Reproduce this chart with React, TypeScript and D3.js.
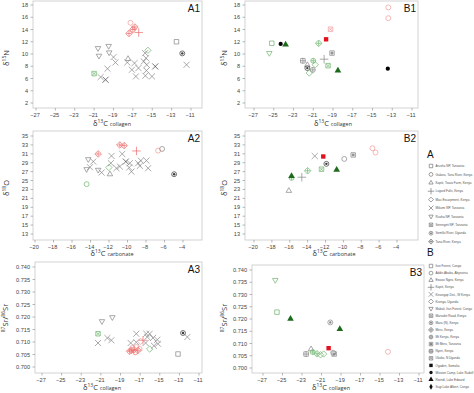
import React from "react";
import * as d3 from "d3";

// [x, y, symbol, colour group]
type Pt = [number, number, string, string];

const collagenTicks = [-27, -25, -23, -21, -19, -17, -15, -13, -11];
const carbonateTicks = [-20, -18, -16, -14, -12, -10, -8, -6, -4];
const nitrogenTicks = [2, 4, 6, 8, 10, 12, 14, 16, 18];
const oxygenTicks = [13, 15, 17, 19, 21, 23, 25, 27, 29, 31, 33, 35];
const strontiumTicks = [0.7, 0.705, 0.71, 0.715, 0.72, 0.725, 0.73, 0.735, 0.74];

const a1Points: Pt[] = [
  [-20.6, 10.95, "triDown", "grey"], [-20.5, 9.7, "triDown", "grey"], [-19.5, 11.3, "triDown", "grey"], [-19.45, 10.25, "triDown", "grey"],
  [-17.5, 9.2, "triangle", "grey"],
  [-15.45, 10.6, "diamond", "green"],
  [-21.0, 6.8, "squareX", "green"],
  [-12.5, 12.0, "square", "grey"],
  [-11.9, 10.1, "circleStar", "dark"],
  [-17.25, 15.1, "circle", "pink"],
  [-17.4, 13.35, "diamondPlus", "red"], [-17.0, 14.0, "diamondPlus", "red"], [-16.8, 14.4, "diamondPlus", "red"],
  [-16.4, 13.5, "plus", "red"],
  [-20.33, 6.23, "cross", "grey"], [-19.82, 5.8, "cross", "dark"], [-19.62, 7.6, "cross", "grey"], [-19.0, 9.49, "cross", "grey"],
  [-18.8, 8.62, "cross", "grey"], [-17.58, 8.62, "cross", "grey"], [-17.1, 7.43, "cross", "grey"], [-16.83, 8.51, "cross", "grey"],
  [-16.69, 6.34, "cross", "grey"], [-16.42, 7.7, "cross", "grey"], [-15.88, 8.78, "cross", "grey"], [-15.74, 10.14, "cross", "grey"],
  [-15.64, 9.32, "cross", "grey"], [-15.71, 6.45, "cross", "grey"], [-15.57, 8.24, "cross", "grey"], [-15.6, 7.3, "cross", "grey"],
  [-15.03, 6.34, "cross", "grey"], [-14.69, 7.97, "cross", "dark"], [-11.46, 8.24, "cross", "grey"],
];

const b1Points: Pt[] = [
  [-13.4, 17.6, "circle", "pink"], [-13.4, 15.85, "circle", "pink"],
  [-19.25, 14.05, "squareX", "pink"],
  [-19.7, 12.4, "fSquare", "fred"],
  [-25.2, 11.75, "square", "green"],
  [-25.45, 10.15, "triDown", "green"],
  [-24.3, 11.65, "fCircle", "black"],
  [-23.8, 11.55, "fTriangle", "dgreen"],
  [-20.45, 11.75, "diamondPlus", "green"],
  [-19.1, 10.15, "squareHash", "grey"],
  [-19.9, 9.15, "plus", "grey"],
  [-22.05, 8.9, "squareGrid", "grey"],
  [-21.6, 8.2, "triangle", "grey"],
  [-21.6, 7.7, "circleStar", "dark"],
  [-21.05, 7.4, "circlePlus", "grey"],
  [-21.0, 8.9, "circlePlus", "green"],
  [-20.8, 8.25, "diamond", "green"],
  [-19.5, 8.1, "squareX", "green"],
  [-21.4, 6.9, "diamond", "green"],
  [-18.5, 7.3, "fTriangle", "dgreen"],
  [-13.45, 7.6, "fCircle", "black"],
];

const a2Points: Pt[] = [
  [-13.17, 30.97, "diamondPlus", "red"], [-10.83, 32.99, "diamondPlus", "red"], [-10.36, 32.84, "diamondPlus", "red"],
  [-9.03, 31.64, "plus", "red"],
  [-6.69, 31.72, "circle", "pink"], [-6.26, 32.09, "circle", "grey"],
  [-4.96, 26.42, "circleStar", "dark"],
  [-14.42, 24.19, "circle", "green"],
  [-12.01, 27.92, "diamond", "green"],
  [-11.9, 26.42, "triangle", "grey"],
  [-14.24, 29.78, "triDown", "grey"], [-14.42, 27.54, "triDown", "grey"], [-13.17, 27.39, "triDown", "grey"],
  [-13.7, 29.26, "cross", "grey"], [-14.06, 28.0, "cross", "grey"], [-12.8, 26.8, "cross", "grey"], [-11.73, 30.53, "cross", "grey"],
  [-11.8, 28.9, "cross", "grey"], [-10.83, 28.14, "cross", "grey"], [-10.57, 30.97, "cross", "grey"], [-10.18, 29.26, "cross", "dark"],
  [-9.75, 28.89, "cross", "grey"], [-9.82, 27.92, "cross", "grey"], [-9.57, 27.0, "cross", "grey"], [-11.19, 27.77, "cross", "grey"],
  [-8.85, 28.89, "cross", "grey"], [-8.56, 29.48, "cross", "grey"], [-8.67, 28.29, "cross", "grey"], [-7.95, 29.48, "cross", "grey"],
  [-7.77, 27.77, "cross", "grey"],
];

const b2Points: Pt[] = [
  [-6.75, 32.25, "circle", "pink"], [-6.4, 31.3, "circle", "pink"],
  [-8.9, 30.75, "squareHash", "grey"],
  [-9.9, 29.85, "circle", "grey"],
  [-12.25, 30.4, "fSquare", "fred"],
  [-13.2, 30.5, "cross", "grey"],
  [-11.9, 28.75, "circleStar", "dark"],
  [-12.45, 27.55, "squareX", "green"],
  [-10.75, 27.4, "fTriangle", "dgreen"],
  [-14.0, 27.2, "diamondPlus", "green"],
  [-14.65, 25.75, "plus", "grey"],
  [-15.8, 25.6, "circlePlus", "green"],
  [-15.8, 26.0, "fTriangle", "dgreen"],
  [-16.1, 22.7, "triangle", "grey"],
];

const a3Points: Pt[] = [
  [-20.89, 0.7183, "triDown", "grey"], [-19.83, 0.7199, "triDown", "grey"],
  [-21.29, 0.7133, "squareX", "green"],
  [-21.29, 0.7096, "cross", "grey"], [-20.34, 0.7116, "cross", "grey"], [-19.93, 0.7107, "cross", "grey"], [-17.96, 0.7096, "cross", "grey"],
  [-17.39, 0.7133, "cross", "grey"], [-17.39, 0.7099, "cross", "grey"], [-16.37, 0.7133, "cross", "grey"], [-16.03, 0.7133, "cross", "grey"],
  [-15.69, 0.7116, "cross", "grey"], [-15.25, 0.7109, "cross", "grey"], [-15.18, 0.7093, "cross", "grey"], [-16.27, 0.712, "cross", "grey"],
  [-16.44, 0.7096, "cross", "grey"], [-15.59, 0.7085, "cross", "grey"], [-12.19, 0.712, "cross", "grey"],
  [-12.63, 0.7136, "circleStar", "dark"],
  [-13.14, 0.7052, "square", "grey"],
  [-18.07, 0.7063, "diamondPlus", "red"], [-17.8, 0.7076, "circle", "pink"], [-17.62, 0.7069, "diamondPlus", "red"],
  [-17.39, 0.708, "circle", "pink"], [-17.22, 0.7067, "diamondPlus", "red"], [-17.49, 0.7059, "circle", "red"],
  [-17.9, 0.7067, "diamondPlus", "red"], [-17.05, 0.7072, "circle", "pink"],
  [-16.71, 0.7107, "plus", "red"], [-16.95, 0.7103, "diamond", "pink"],
  [-16.03, 0.7072, "diamond", "green"],
];

const b3Points: Pt[] = [
  [-25.74, 0.7359, "triDown", "green"],
  [-25.57, 0.7228, "square", "green"],
  [-24.18, 0.7201, "fTriangle", "dgreen"],
  [-20.1, 0.7186, "circleStar", "grey"],
  [-19.12, 0.7159, "fTriangle", "dgreen"],
  [-20.27, 0.7081, "fSquare", "fred"],
  [-22.58, 0.7057, "squareGrid", "grey"],
  [-22.07, 0.7077, "triangle", "grey"],
  [-21.9, 0.7065, "circlePlus", "green"],
  [-21.46, 0.7058, "diamondPlus", "green"],
  [-21.1, 0.7054, "diamond", "green"],
  [-20.78, 0.7057, "diamond", "green"],
  [-19.8, 0.7062, "circle", "grey"],
  [-19.7, 0.7057, "squareHash", "grey"],
  [-14.19, 0.7066, "circle", "pink"],
];

const legendASites = [
  "Arusha NP, Tanzania", "Galana, Tana River, Kenya", "Kapiti, Tsavo Farm, Kenya", "Lugard Falls, Kenya",
  "Mau Escarpment, Kenya", "Mikumi NP, Tanzania", "Ruaha NP, Tanzania", "Serengeti NP, Tanzania",
  "Semliki River, Uganda", "Tana River, Kenya",
];
const legendAShapes = ["square", "circle", "triangle", "plus", "diamond", "cross", "triDown", "squareX", "circleStar", "diamondPlus"];

const legendBSites = [
  "Ituri Forest, Congo", "Addis Ababa, Abyssinia", "Ewaso Ngiro, Kenya", "Kapiti, Kenya", "Kinangop Dist., W Kenya",
  "Kisinga, Uganda", "Mabali, Ituri Forest, Congo", "Marsabit Road, Kenya", "Mara (N), Kenya", "Meru, Kenya",
  "Mt Kenya, Kenya", "Mt Meru, Tanzania", "Nyeri, Kenya", "Ukoko, N Uganda", "Ogaden, Somalia",
  "Mission Camp, Lake Rudolf", "Rwindi, Lake Edward", "Sugi Lake Albert, Congo",
];
const legendBShapes = [
  "square", "circle", "triangle", "plus", "cross", "diamond", "triDown", "squareX", "circleStar", "diamondPlus",
  "circlePlus", "squareHash", "squareGrid", "squareX", "fSquare", "fCircle", "fTriangle", "fDiamond",
];

const palette: Record<string, string> = {
  grey: "#858585", dark: "#3a3a3a", pink: "#f29a9a", red: "#ec6a6a",
  green: "#6db36d", dgreen: "#1d6a1d", black: "#000000", fred: "#e3111f",
};

function Marker({ shape, color, x, y, k = 0.8 }: { shape: string; color: string; x: number; y: number; k?: number }) {
  const s = (t: d3.SymbolType, size: number) => d3.symbol(t, size * k * k)() as string;
  const sw = 0.7;
  const line = (d: string, rot = 0) => <path d={d} fill="none" stroke={color} strokeWidth={sw} transform={rot ? `rotate(${rot})` : undefined} />;
  const fill = (d: string) => <path d={d} fill={color} stroke="none" />;
  const h = 1.3 * k;
  const hash = `M${-h / 2},${-h * 1.4}V${h * 1.4}M${h / 2},${-h * 1.4}V${h * 1.4}M${-h * 1.4},${-h / 2}H${h * 1.4}M${-h * 1.4},${h / 2}H${h * 1.4}`;
  let parts: React.ReactNode;
  switch (shape) {
    case "square": parts = line(s(d3.symbolSquare2, 40)); break;
    case "circle": parts = line(s(d3.symbolCircle, 30)); break;
    case "triangle": parts = line(s(d3.symbolTriangle2, 34)); break;
    case "triDown": parts = line(s(d3.symbolTriangle2, 34), 180); break;
    case "plus": parts = line(s(d3.symbolPlus, 40)); break;
    case "cross": parts = line(s(d3.symbolTimes, 40)); break;
    case "diamond": parts = line(s(d3.symbolDiamond2, 40)); break;
    case "squareX": parts = <>{line(s(d3.symbolSquare2, 40))}{line(s(d3.symbolTimes, 16))}</>; break;
    case "circleStar": parts = <>{line(s(d3.symbolCircle, 30))}{fill(s(d3.symbolCircle, 7))}</>; break;
    case "diamondPlus": parts = <>{line(s(d3.symbolDiamond2, 44))}{line(s(d3.symbolPlus, 16))}</>; break;
    case "circlePlus": parts = <>{line(s(d3.symbolCircle, 30))}{line(s(d3.symbolPlus, 14))}</>; break;
    case "squareHash": parts = <>{line(s(d3.symbolSquare2, 40))}{line(hash)}</>; break;
    case "squareGrid": parts = <>{line(s(d3.symbolSquare2, 40))}{line(s(d3.symbolPlus, 22))}</>; break;
    case "fSquare": parts = fill(s(d3.symbolSquare, 30)); break;
    case "fCircle": parts = fill(s(d3.symbolCircle, 22)); break;
    case "fTriangle": parts = fill(s(d3.symbolTriangle, 30)); break;
    case "fDiamond": parts = fill(s(d3.symbolDiamond, 26)); break;
    default: parts = null;
  }
  return <g transform={`translate(${x},${y})`}>{parts}</g>;
}

type PanelProps = {
  frame: [number, number, number, number];
  xd: [number, number]; xr: [number, number];
  yd: [number, number]; yr: [number, number];
  xTicks: number[]; yTicks: number[]; yFmt: (v: number) => string;
  points: Pt[]; label: string;
  xSub: string; xTitleAt: [number, number];
  yTitle: React.ReactNode; yTitleAt: [number, number];
};

const tickFont = "'Liberation Sans', Arial, sans-serif";
const titleFont = "'Open Sans', 'Noto Sans', sans-serif";

function Panel(p: PanelProps) {
  const [x0, y0, x1, y1] = p.frame;
  const x = d3.scaleLinear().domain(p.xd).range(p.xr);
  const y = d3.scaleLinear().domain(p.yd).range(p.yr);
  return (
    <g>
      <rect x={x0} y={y0} width={x1 - x0} height={y1 - y0} fill="#fff" stroke="#c8c8c8" strokeWidth={0.8} />
      {p.xTicks.map((t) => (
        <g key={"x" + t}>
          <line x1={x(t)} x2={x(t)} y1={y1} y2={y1 + 2.5} stroke="#888" strokeWidth={0.6} />
          <text x={x(t) - 1} y={y1 + 8.5} fontSize={5.6} textAnchor="middle" fill="#444" fontFamily={tickFont}>{"\u2212" + Math.abs(t)}</text>
        </g>
      ))}
      {p.yTicks.map((t) => (
        <g key={"y" + t}>
          <line x1={x0 - 2.5} x2={x0} y1={y(t)} y2={y(t)} stroke="#888" strokeWidth={0.6} />
          <text x={x0 - 5} y={y(t) + 2} fontSize={5.6} textAnchor="end" fill="#444" fontFamily={tickFont}>{p.yFmt(t)}</text>
        </g>
      ))}
      {p.points.map((d, i) => (
        <Marker key={i} shape={d[2]} color={palette[d[3]]} x={x(d[0])} y={y(d[1])} />
      ))}
      <text x={x1 - 2} y={y0 + 11} fontSize={10} textAnchor="end" fill="#111" fontFamily={tickFont}>{p.label}</text>
      <text x={p.xTitleAt[0]} y={p.xTitleAt[1]} fontSize={7.5} textAnchor="middle" fill="#333" fontFamily={titleFont}>
        δ<tspan fontSize={5} dy={-3}>13</tspan><tspan dy={3}>C </tspan><tspan fontSize={5.5}>{p.xSub}</tspan>
      </text>
      <text transform={`translate(${p.yTitleAt[0]},${p.yTitleAt[1]}) rotate(-90)`} fontSize={7.5} textAnchor="middle" fill="#333" fontFamily={titleFont}>
        {p.yTitle}
      </text>
    </g>
  );
}

const nTitle = <>δ<tspan fontSize={5} dy={-3}>15</tspan><tspan dy={3}>N</tspan></>;
const oTitle = <>δ<tspan fontSize={5} dy={-3}>18</tspan><tspan dy={3}>O</tspan></>;
const srTitle = <><tspan fontSize={5} dy={-3}>87</tspan><tspan dy={3}>Sr/</tspan><tspan fontSize={5} dy={-3}>86</tspan><tspan dy={3}>Sr</tspan></>;

function Legend({ title, sites, shapes, top, step, titleY }: { title: string; sites: string[]; shapes: string[]; top: number; step: number; titleY: number }) {
  return (
    <g>
      <text x={427} y={titleY} fontSize={10} fill="#111" fontFamily={tickFont}>{title}</text>
      {sites.map((s, i) => (
        <g key={s + i}>
          <Marker shape={shapes[i]} color={shapes[i].startsWith("f") ? "#111" : "#777"} x={431} y={top + i * step} k={0.62} />
          <text x={435.5} y={top + i * step + 1.1} fontSize={3.1} fill="#555" fontFamily={tickFont}>{s}</text>
        </g>
      ))}
    </g>
  );
}

export default function App() {
  const fmtInt = (v: number) => String(v);
  const fmtSr = (v: number) => v.toFixed(3);
  return (
    <svg width={474} height={393} style={{ position: "absolute", left: 0, top: 0, background: "#fff" }}>
      <rect width={474} height={393} fill="#fff" />
      <Panel frame={[33, 1, 202, 108]} xd={[-27, -11]} xr={[36, 191]} yd={[2, 18]} yr={[103, 5]}
        xTicks={collagenTicks} yTicks={nitrogenTicks} yFmt={fmtInt} points={a1Points} label="A1"
        xSub="collagen" xTitleAt={[112, 126]} yTitle={nTitle} yTitleAt={[9, 58]} />
      <Panel frame={[245, 1, 418, 108]} xd={[-27, -11]} xr={[254, 412]} yd={[2, 18]} yr={[103, 5]}
        xTicks={collagenTicks} yTicks={nitrogenTicks} yFmt={fmtInt} points={b1Points} label="B1"
        xSub="collagen" xTitleAt={[333, 126]} yTitle={nTitle} yTitleAt={[227, 58]} />
      <Panel frame={[33, 131, 202, 240]} xd={[-20, -4]} xr={[35, 183]} yd={[13, 35]} yr={[234, 136]}
        xTicks={carbonateTicks} yTicks={oxygenTicks} yFmt={fmtInt} points={a2Points} label="A2"
        xSub="carbonate" xTitleAt={[112, 256]} yTitle={oTitle} yTitleAt={[9, 188]} />
      <Panel frame={[245, 131, 418, 240]} xd={[-20, -4]} xr={[254, 397]} yd={[13, 35]} yr={[234, 136]}
        xTicks={carbonateTicks} yTicks={oxygenTicks} yFmt={fmtInt} points={b2Points} label="B2"
        xSub="carbonate" xTitleAt={[334, 256]} yTitle={oTitle} yTitleAt={[227, 188]} />
      <Panel frame={[35, 262, 202, 373]} xd={[-27, -11]} xr={[42, 199]} yd={[0.7, 0.74]} yr={[367, 267]}
        xTicks={collagenTicks} yTicks={strontiumTicks} yFmt={fmtSr} points={a3Points} label="A3"
        xSub="collagen" xTitleAt={[102, 390]} yTitle={srTitle} yTitleAt={[7.5, 318]} />
      <Panel frame={[252, 265, 424, 373]} xd={[-27, -11]} xr={[263, 419]} yd={[0.7, 0.74]} yr={[368, 270]}
        xTicks={collagenTicks} yTicks={strontiumTicks} yFmt={fmtSr} points={b3Points} label="B3"
        xSub="collagen" xTitleAt={[331, 390]} yTitle={srTitle} yTitleAt={[227, 318]} />
      <Legend title="A" sites={legendASites} shapes={legendAShapes} top={166} step={8.4} titleY={158} />
      <Legend title="B" sites={legendBSites} shapes={legendBShapes} top={266} step={7.1} titleY={256} />
    </svg>
  );
}
